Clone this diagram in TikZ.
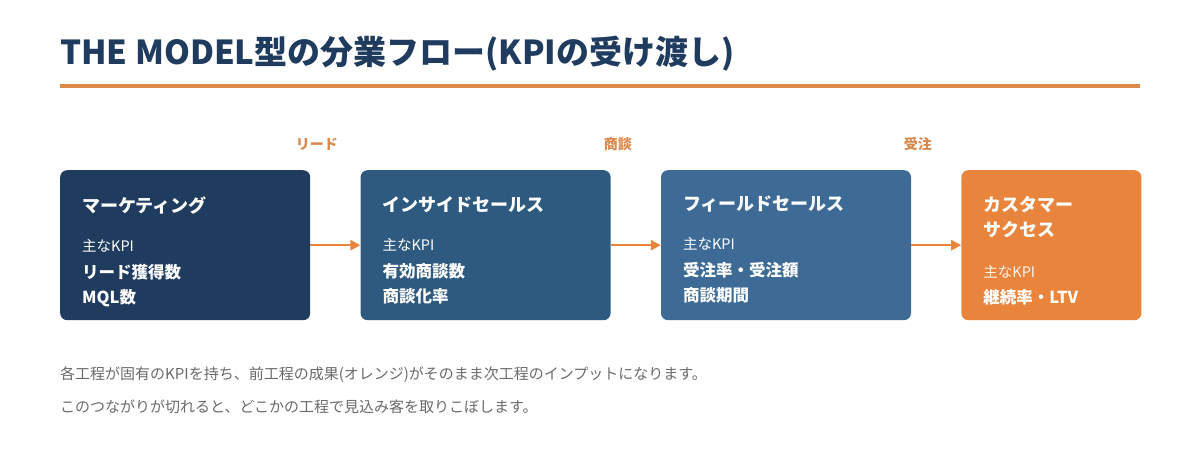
\documentclass[tikz,border=0pt]{standalone}
\usepackage{fontspec}
\setmainfont{Noto Sans CJK JP}
\usepackage{tikz}
\usepackage{xcolor}
\usetikzlibrary{positioning,arrows.meta}
\definecolor{FlowNavy}{HTML}{1F3B5E}
\definecolor{FlowBlue}{HTML}{2E5A80}
\definecolor{FlowSteel}{HTML}{3D6B96}
\definecolor{FlowOrange}{HTML}{E8843B}
\definecolor{FlowRule}{HTML}{DB8A4C}
\definecolor{FlowLabel}{HTML}{D9874A}
\definecolor{FlowNote}{HTML}{6A6A6A}

\begin{document}
\begin{tikzpicture}[
    x=1pt, y=-1pt,
    stage/.style={rounded corners=7pt, minimum width=250pt, minimum height=150pt,
      inner sep=0pt},
    kpitext/.style={anchor=north west, inner sep=0pt, text=white, text width=210pt,
      align=left, font=\fontsize{16.5}{25}\selectfont\bfseries},
    flowlabel/.style={anchor=east, inner sep=0pt, text=FlowLabel,
      font=\fontsize{14}{16}\selectfont\bfseries},
    arrow/.style={-{Triangle[length=10pt,width=10pt]}, line width=2.5pt, color=FlowOrange},
    note/.style={anchor=west, inner sep=0pt, text=FlowNote,
      font=\fontsize{15}{16}\selectfont}
  ]
    \useasboundingbox (0,0) rectangle (1200,470);
    \node[anchor=base west, inner sep=0pt, text=FlowNavy,
      font=\fontsize{33}{36}\selectfont\bfseries] (title) at (60,65)
      {THE MODEL型の分業フロー(KPIの受け渡し)};
    \draw[FlowRule, line width=4pt] (60,86) -- (1140,86);

    \node[stage, fill=FlowNavy, anchor=north west] (mkt) at (60,170) {};
    \node[stage, fill=FlowBlue, right=50pt of mkt] (isl) {};
    \node[stage, fill=FlowSteel, right=50pt of isl] (fsl) {};
    \node[stage, fill=FlowOrange, right=50pt of fsl, minimum width=180pt] (cs) {};

    \node[kpitext] (mkt-txt) at ([shift={(22pt,-26pt)}]mkt.north west)
      {{\fontsize{18}{25}\selectfont マーケティング}\\[14pt]
       {\fontsize{14.5}{25}\selectfont\mdseries 主なKPI}\\[2pt]
       リード獲得数\\ MQL数};
    \node[kpitext] (isl-txt) at ([shift={(22pt,-26pt)}]isl.north west)
      {{\fontsize{18}{25}\selectfont インサイドセールス}\\[14pt]
       {\fontsize{14.5}{25}\selectfont\mdseries 主なKPI}\\[2pt]
       有効商談数\\ 商談化率};
    \node[kpitext] (fsl-txt) at ([shift={(22pt,-26pt)}]fsl.north west)
      {{\fontsize{18}{25}\selectfont フィールドセールス}\\[14pt]
       {\fontsize{14.5}{25}\selectfont\mdseries 主なKPI}\\[2pt]
       受注率・受注額\\ 商談期間};
    \node[kpitext, text width=150pt] (cs-txt) at ([shift={(22pt,-26pt)}]cs.north west)
      {{\fontsize{18}{25}\selectfont カスタマー}\\
       {\fontsize{18}{25}\selectfont サクセス}\\[16pt]
       {\fontsize{14.5}{25}\selectfont\mdseries\color{white!92!FlowOrange} 主なKPI}\\[1pt]
       継続率・LTV};

    \draw[arrow] (mkt) -- (isl);
    \draw[arrow] (isl) -- (fsl);
    \draw[arrow] (fsl) -- (cs);

    \node[flowlabel] (lead) at (338,144) {リード};
    \node[flowlabel] (deal) at (632,144) {商談};
    \node[flowlabel] (order) at (932,144) {受注};

    \node[note] (note1) at (60,375)
      {各工程が固有のKPIを持ち、前工程の成果(オレンジ)がそのまま次工程のインプットになります。};
    \node[note] (note2) at (60,407)
      {このつながりが切れると、どこかの工程で見込み客を取りこぼします。};
  \end{tikzpicture}
\end{document}
